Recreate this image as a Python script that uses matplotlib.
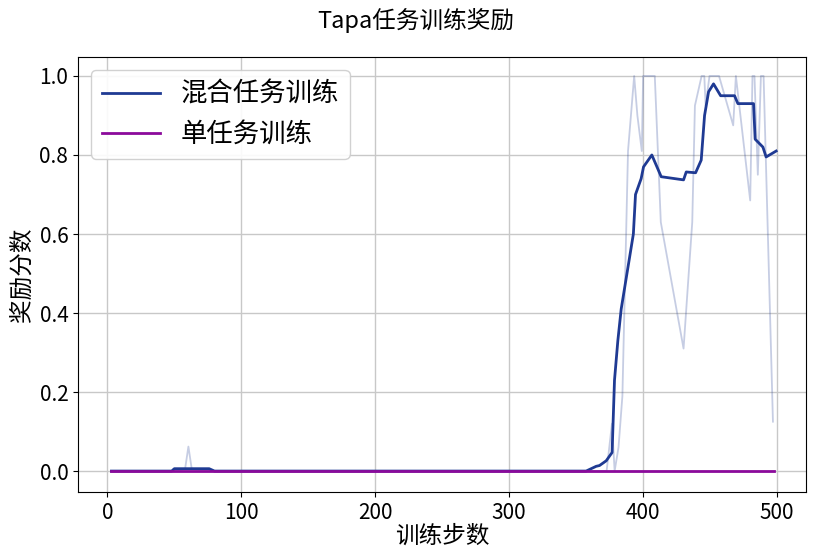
import matplotlib
matplotlib.use("Agg")
import matplotlib.pyplot as plt

plt.rcParams['font.family'] = ['Noto Sans CJK SC', 'DejaVu Sans']

# raw reward (light line)
raw_x = [3, 50, 58, 60.5, 63, 78, 80, 373, 377, 379, 381.9, 384.8, 389, 393.6, 396, 399.3, 400.3,
         409, 413.5, 430.5, 437, 439, 444, 446, 447, 449.9, 457, 467.6, 469.6, 480.3, 482, 483.5,
         486, 488.3, 490.3, 497.3]
raw_y = [0, 0, 0.005, 0.062, 0.005, 0, 0, 0, 0.12, 0, 0.06, 0.19, 0.81, 1.0, 0.9, 0.81, 1.0,
         1.0, 0.63, 0.31, 0.63, 0.925, 1.0, 1.0, 0.925, 1.0, 1.0, 0.875, 1.0, 0.685, 1.0, 1.0,
         0.75, 1.0, 1.0, 0.125]

# smoothed mixed-task reward
mix_x = [3, 48, 50, 76, 80, 357.7, 365.2, 367.7, 372.7, 377.1, 378.9, 381.4, 383.9, 393, 394.6,
         398.8, 400.6, 406.8, 413.8, 430.5, 432.5, 439.5, 443.7, 446.2, 449.2, 452.9, 458.2,
         468.6, 471.1, 482.8, 484, 489.8, 492.2, 499.7]
mix_y = [0, 0, 0.006, 0.006, 0, 0, 0.012, 0.014, 0.026, 0.047, 0.23, 0.33, 0.41, 0.60, 0.70,
         0.74, 0.77, 0.80, 0.745, 0.737, 0.757, 0.755, 0.787, 0.90, 0.96, 0.98, 0.95, 0.95, 0.93,
         0.93, 0.84, 0.82, 0.795, 0.81]

single_x = [3, 498]
single_y = [0, 0]

fig = plt.figure(figsize=(8.32, 5.57), dpi=100)
ax = fig.add_axes([78 / 832, 1 - 492 / 557, 728 / 832, 435 / 557])

ax.plot(raw_x, raw_y, color='#1f3a93', alpha=0.25, lw=1.3)
ax.plot(mix_x, mix_y, color='#1f3a93', lw=2, label='混合任务训练')
ax.plot(single_x, single_y, color='#8b0a9b', lw=2, label='单任务训练')

ax.set_xlim(-22, 522)
ax.set_ylim(-0.053, 1.048)
ax.set_xticks([0, 100, 200, 300, 400, 500])
ax.set_yticks([0.0, 0.2, 0.4, 0.6, 0.8, 1.0])
ax.tick_params(labelsize=15)
ax.grid(True, color='#c8c8c8', lw=1)
ax.set_axisbelow(True)

ax.set_xlabel('训练步数', fontsize=17, labelpad=1)
ax.set_ylabel('奖励分数', fontsize=17)
fig.suptitle('Tapa任务训练奖励', fontsize=17, y=0.985)
ax.legend(loc='upper left', fontsize=19, framealpha=0.9, handlelength=2.2)

fig.savefig('out.png', dpi=100)
